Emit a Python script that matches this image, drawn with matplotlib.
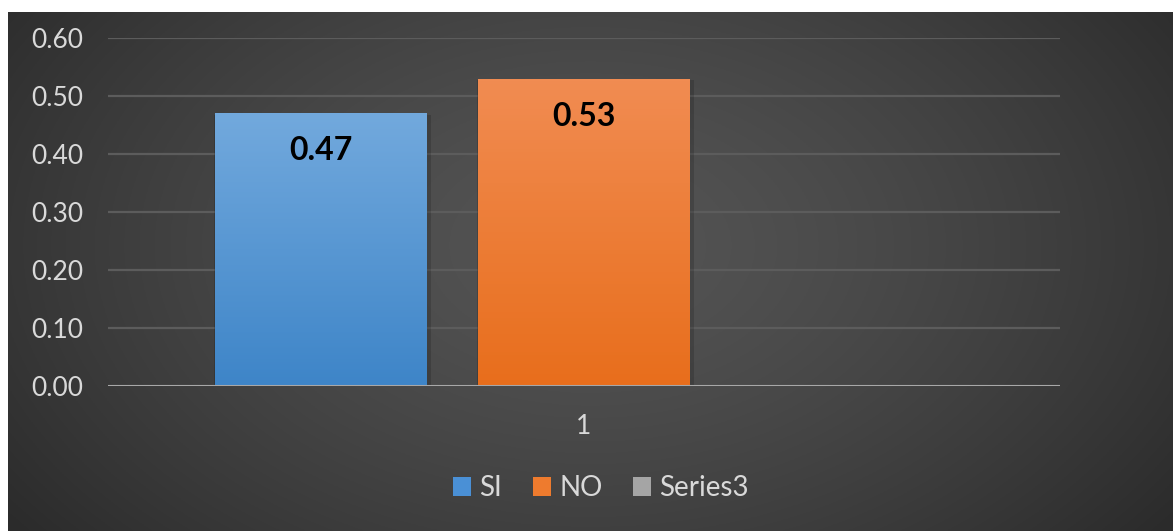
import numpy as np
import matplotlib
matplotlib.use('Agg')
import matplotlib.pyplot as plt
from matplotlib.patches import Patch
from matplotlib.colors import to_rgb

# data
categories = ['1']
series_names = ['SI', 'NO', 'Series3']
series_values = [0.47, 0.53, np.nan]
y_ticks = [0.0, 0.1, 0.2, 0.3, 0.4, 0.5, 0.6]

top_colors = ['#72a9dd', '#f18c52', '#b4b4b4']
bottom_colors = ['#3e85c8', '#e86e1c', '#8f8f8f']
legend_colors = ['#4a90d6', '#ee7b2e', '#a5a5a5']

plt.rcParams['font.family'] = ['Lato', 'DejaVu Sans']

W, H = 1173, 531
fig = plt.figure(figsize=(W / 100, H / 100), dpi=100)
fig.patch.set_facecolor('white')

# dark radial background
bg = fig.add_axes([8 / W, 0, 1 - 8 / W, 1 - 12 / H])
bg.axis('off')
yy, xx = np.mgrid[0:1:300j, 0:1:600j]
r = np.sqrt(((xx - 0.5) / 0.62) ** 2 + ((yy - 0.45) / 0.9) ** 2)
r = np.clip(r, 0, 1)
shade = 0.33 - 0.16 * r ** 1.4
bg.imshow(np.dstack([shade] * 3), extent=[0, 1, 0, 1], aspect='auto')
bg.set_xlim(0, 1)
bg.set_ylim(0, 1)

ax = fig.add_axes([108 / W, 1 - 386 / H, 952 / W, 348 / H])
ax.set_facecolor('none')

step = 1.0
width = 212 / 263
positions = [(i - 1) * step for i in range(len(series_names))]

for x, val, tc, bc in zip(positions, series_values, top_colors, bottom_colors):
    if np.isnan(val):
        continue
    # soft shadow
    ax.bar(x + 0.006, val + 0.004, width=width + 0.02, bottom=-0.006, color='black',
           alpha=0.15, zorder=2, linewidth=0)
    bar = ax.bar(x, val, width=width, color=bc, zorder=3, linewidth=0)[0]
    t = np.array(to_rgb(tc))
    b = np.array(to_rgb(bc))
    f = np.linspace(0, 1, 100)[:, None]
    grad = (t * (1 - f) + b * f)[:, None, :]
    im = ax.imshow(grad, extent=[x - width / 2, x + width / 2, 0, val],
                   aspect='auto', zorder=3.5)
    im.set_clip_path(bar)
    ax.annotate('%.2f' % val, xy=(x, val), xytext=(0, -27),
                textcoords='offset points', ha='center', va='center',
                fontsize=23, fontweight='bold', color='black', zorder=5)

ax.set_xlim(-1.81, 1.81)
ax.set_ylim(0, 0.6)
ax.set_yticks(y_ticks)
ax.set_yticklabels(['%.2f' % v for v in y_ticks])
ax.set_xticks([0])
ax.set_xticklabels(categories)
ax.grid(axis='y', color='#5c5c5c', linewidth=1.6, zorder=1)
ax.set_axisbelow(True)
for s in ax.spines.values():
    s.set_visible(False)
ax.axhline(0, color='#a8a8a8', linewidth=2.2, zorder=4)
ax.tick_params(axis='y', length=0, pad=18, labelsize=19, labelcolor='#d9d9d9')
ax.tick_params(axis='x', length=0, pad=20, labelsize=19, labelcolor='#d9d9d9')

handles = [Patch(facecolor=c, edgecolor='none') for c in legend_colors]
fig.legend(handles, series_names, loc='center', bbox_to_anchor=(601 / W, 1 - 488 / H),
           ncol=3, frameon=False, fontsize=20, labelcolor='#d9d9d9',
           handlelength=0.65, handleheight=0.65, handletextpad=0.3, columnspacing=1.1)

fig.savefig('out.png', dpi=100)
